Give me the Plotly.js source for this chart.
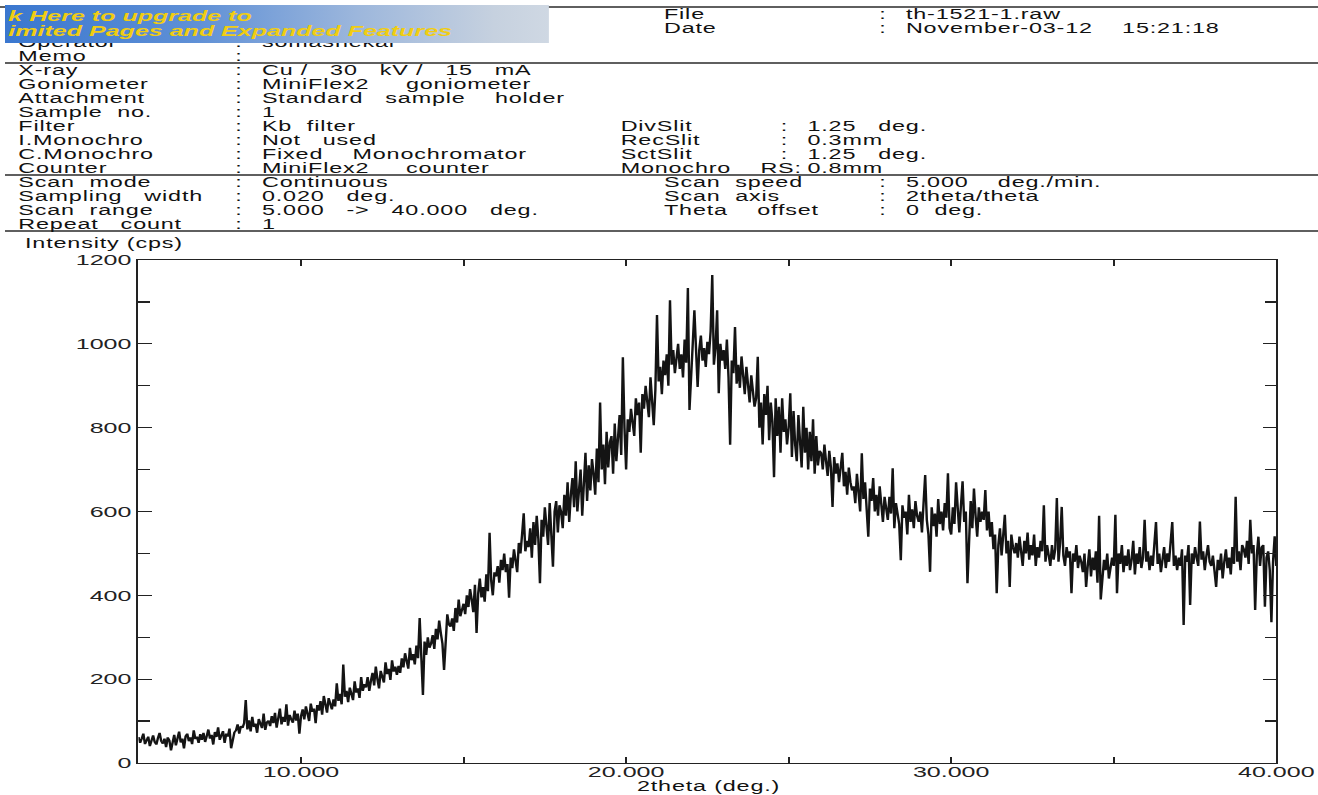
<!DOCTYPE html>
<html>
<head>
<meta charset="utf-8">
<script src="https://cdn.plot.ly/plotly-3.0.1.min.js"></script>
<style>
html,body{margin:0;padding:0;background:#fff;overflow:hidden;width:1318px;height:795px;}
#wrap{position:absolute;left:0;top:0;width:790px;height:795px;transform:scaleX(1.668354);transform-origin:0 0;}
#chart{position:absolute;left:0;top:0;width:790px;height:795px;}
#chart .annotation-text{letter-spacing:0.5px;}
#banner{position:absolute;left:3px;top:5px;width:326px;height:38px;box-sizing:border-box;padding:3px 0 0 2px;
  background:linear-gradient(90deg,#3a77cf 0%,#5f90d6 35%,#9db7dc 65%,#c6d1df 90%,#cfd8e3 100%);
  font-family:"Liberation Sans",Arial,sans-serif;font-weight:bold;font-style:italic;font-size:15px;line-height:15px;
  color:#f1cd12;white-space:nowrap;overflow:hidden;z-index:5;}
</style>
</head>
<body>
<div id="wrap">
  <div id="chart"></div>
  <div id="banner">k Here to upgrade to<br>imited Pages and Expanded Features</div>
</div>
<script>
// ---------------- DATA ----------------
const SCAN_START = 5;      // deg (2theta)
const SCAN_STEP = 0.05;    // deg
const X_TICK_VALUES = [10, 20, 30, 40];
const X_TICK_LABELS = ["10.000", "20.000", "30.000", "40.000"];
const Y_TICK_VALUES = [0, 200, 400, 600, 800, 1000, 1200];
const Y_TICK_LABELS = ["0", "200", "400", "600", "800", "1000", "1200"];

// Intensity (cps), 5.00 .. 40.00 deg every 0.05 deg
const cps_05_10 = [
  62,48,58,70,45,55,63,40,57,66,50,44,60,72,52,46,58,38,61,54,
  30,56,67,42,60,75,49,58,35,64,70,52,61,45,78,57,63,48,69,55,
  72,50,64,80,58,67,44,74,62,85,55,68,76,48,70,63,82,35,66,73,
  78,92,70,88,84,95,150,80,102,75,110,86,94,72,105,90,83,118,79,97,
  101,88,112,95,120,84,106,130,92,110,98,140,89,115,104,96,125,101,118,70
];
const cps_10_15 = [
  112,128,104,135,118,100,142,122,130,95,138,125,148,115,160,132,120,155,140,128,
  152,135,190,148,165,140,235,158,172,145,180,162,150,195,168,178,155,205,172,188,
  180,205,172,196,215,185,230,200,178,220,208,192,240,212,225,198,245,218,230,210,
  232,215,250,228,262,240,225,275,245,260,235,280,250,346,270,162,290,258,300,275,
  285,305,272,320,295,340,310,285,222,300,355,330,325,345,315,370,335,390,350,365
];
const cps_15_20 = [
  380,355,400,372,415,390,360,425,310,405,440,395,420,385,450,410,549,435,400,455,
  445,470,430,485,460,500,455,475,394,490,465,510,480,455,525,500,545,596,505,530,
  515,560,490,575,520,590,535,429,580,540,610,545,520,620,560,468,600,625,550,615,
  600,560,640,590,670,575,640,680,610,720,600,660,700,590,680,740,625,710,650,725,
  690,640,750,670,860,700,760,665,790,705,765,780,690,810,720,790,830,735,968,800
];
const cps_20_25 = [
  700,820,790,845,810,780,870,830,860,740,880,845,900,860,825,920,875,806,890,1069,
  910,945,880,960,925,975,900,1104,950,985,930,965,1000,940,975,920,1010,955,1133,842,
  970,1000,1080,940,897,985,1020,960,990,945,1005,975,1030,1164,950,990,1080,882,1000,960,
  985,940,1010,920,759,960,930,1040,905,950,895,970,920,880,945,900,860,925,885,850,
  870,969,800,860,760,880,830,900,770,860,815,682,870,780,850,740,870,790,820,760
];
const cps_25_30 = [
  800,882,730,840,760,720,830,750,705,850,740,800,700,790,720,820,690,780,710,745,
  740,700,760,720,685,745,705,611,730,690,715,670,700,740,660,695,640,705,670,650,
  660,620,690,645,600,739,630,670,610,540,655,625,680,600,640,590,660,615,575,635,
  610,580,635,595,703,560,620,590,570,484,615,585,600,545,640,575,605,560,625,590,
  575,600,550,620,687,580,545,456,610,565,595,540,630,570,600,555,620,585,691,560
];
const cps_30_35 = [
  545,610,570,670,590,550,615,672,575,600,429,580,625,560,655,590,540,610,575,600,
  580,651,555,600,540,575,510,545,405,520,560,495,540,592,500,530,420,545,515,500,
  525,490,540,505,470,530,500,550,485,520,495,545,470,515,490,530,505,615,480,520,
  500,470,520,485,510,632,480,525,611,495,470,515,490,505,405,500,480,520,465,495,
  480,455,500,420,470,510,445,490,460,505,430,590,390,450,485,460,500,440,475,490
];
const cps_35_40 = [
  470,592,405,500,475,520,455,495,470,510,460,485,530,450,500,475,515,465,490,580,
  480,505,460,495,470,530,575,475,500,455,490,515,465,500,480,520,575,470,495,460,
  490,470,510,329,495,480,520,377,500,475,515,490,470,576,485,505,460,495,520,480,
  470,495,455,420,485,460,500,440,480,510,465,490,450,515,475,635,480,505,460,520,
  510,490,530,475,580,500,520,365,495,540,470,515,520,373,490,505,460,336,480,541,
  470
];

// Header texts
const infoTopLabels = ["File", "Date"];
const infoTopValues = ["th-1521-1.raw", "November-03-12    15:21:18"];
const infoLeftLabels = ["Operator", "Memo", "X-ray", "Goniometer", "Attachment", "Sample  no.", "Filter",
  "I.Monochro", "C.Monochro", "Counter", "Scan  mode", "Sampling   width", "Scan  range", "Repeat   count"];
const infoLeftValues = ["somashekar", "", "Cu /   30   kV /   15   mA", "MiniFlex2     goniometer",
  "Standard   sample    holder", "1", "Kb  filter", "Not   used", "Fixed    Monochromator",
  "MiniFlex2     counter", "Continuous", "0.020   deg.", "5.000   ->   40.000   deg.", "1"];
const infoMidLabels = ["DivSlit", "RecSlit", "SctSlit", "Monochro    RS:"];
const infoMidValues = ["1.25   deg.", "0.3mm", "1.25   deg.", "0.8mm"];
const infoRightLabels = ["Scan  speed", "Scan  axis", "Theta    offset"];
const infoRightValues = ["5.000    deg./min.", "2theta/theta", "0  deg."];
const yTitle = "Intensity (cps)";
const xTitle = "2theta (deg.)";

// ---------------- LAYOUT HELPERS ----------------
const intensity = [].concat(cps_05_10, cps_10_15, cps_15_20, cps_20_25, cps_25_30, cps_30_35, cps_35_40);
const S = 1318 / 790;                 // horizontal stretch applied by CSS
const W = 790, H = 795;
const ML = 83, MR = 25, MT = 260, MB = 32;
const PW = W - ML - MR, PH = H - MT - MB;
const px = xr => ((xr - 1) / S - ML) / PW;  // reference-pixel x -> paper (annotations)
const pxl = xr => (xr / S - ML) / PW;       // reference-pixel x -> paper (shapes)
const py = yr => (MT + PH - yr) / PH;       // reference-pixel y -> paper
const rowY = k => 14 + 14 * k;
const nb = t => t.replace(/ /g, "\u00a0");
const FONT = "Liberation Sans, Arial, sans-serif";
const TXT = "#111";
const FS = 14;

const annotations = [];
function txt(t, xr, yr) {
  annotations.push({text: nb(t), xref: "paper", yref: "paper", x: px(xr), y: py(yr),
    xanchor: "left", yanchor: "middle", align: "left", showarrow: false, borderpad: 0,
    font: {family: FONT, size: FS, color: TXT}});
}
infoTopLabels.forEach((l, i) => { txt(l, 663, rowY(i)); txt(":", 878, rowY(i)); txt(infoTopValues[i], 905, rowY(i)); });
infoLeftLabels.forEach((l, i) => {
  const y = rowY(i + 2);
  txt(l, 18, y); txt(":", 235, y);
  if (infoLeftValues[i]) txt(infoLeftValues[i], 262, y);
});
infoMidLabels.forEach((l, i) => {
  const y = rowY(i + 8);
  txt(l, 620, y);
  if (i < 3) txt(":", 780, y);
  txt(infoMidValues[i], 806, y);
});
infoRightLabels.forEach((l, i) => {
  const y = rowY(i + 12);
  txt(l, 663, y); txt(":", 878, y); txt(infoRightValues[i], 905, y);
});
txt(yTitle, 25, 243);
annotations.push({text: xTitle, xref: "paper", yref: "paper", x: 0.5, y: py(786),
  xanchor: "center", yanchor: "middle", showarrow: false, borderpad: 0, font: {family: FONT, size: FS, color: TXT}});

const shapes = [7, 63, 175, 231].map(yr => ({type: "line", xref: "paper", yref: "paper",
  x0: pxl(yr === 7 ? 0 : 5), x1: pxl(1318), y0: py(yr), y1: py(yr), line: {color: "#2a2a2a", width: 1.6}}));

const axisCommon = {
  showgrid: false, zeroline: false, showline: true, linecolor: "#222", linewidth: 1.2,
  mirror: "allticks", ticks: "inside", tickcolor: "#222", tickwidth: 1.2,
  tickfont: {family: FONT, size: 15, color: "#222"}, fixedrange: true
};

const trace = {
  type: "scatter", mode: "lines", x0: SCAN_START, dx: SCAN_STEP, y: intensity,
  line: {color: "#141414", width: 1.45}, hoverinfo: "skip", showlegend: false
};

const layout = {
  width: W, height: H, margin: {l: ML, r: MR, t: MT, b: MB, pad: 0},
  paper_bgcolor: "#fff", plot_bgcolor: "#fff", showlegend: false,
  font: {family: FONT, size: FS, color: TXT},
  xaxis: Object.assign({}, axisCommon, {range: [5, 40], tickmode: "array", tickvals: X_TICK_VALUES,
    ticktext: X_TICK_LABELS, ticklen: 6, ticklabelstandoff: -5,
    minor: {tick0: 5, dtick: 5, ticks: "inside", ticklen: 6, tickwidth: 1.2, tickcolor: "#222", showgrid: false}}),
  yaxis: Object.assign({}, axisCommon, {range: [0, 1200], tickmode: "array", tickvals: Y_TICK_VALUES,
    ticktext: Y_TICK_LABELS, ticklen: 8,
    minor: {tick0: 0, dtick: 100, ticks: "inside", ticklen: 7, tickwidth: 1.2, tickcolor: "#222", showgrid: false}}),
  annotations: annotations, shapes: shapes
};

Plotly.newPlot("chart", [trace], layout, {displayModeBar: false, staticPlot: true});
</script>
</body>
</html>
